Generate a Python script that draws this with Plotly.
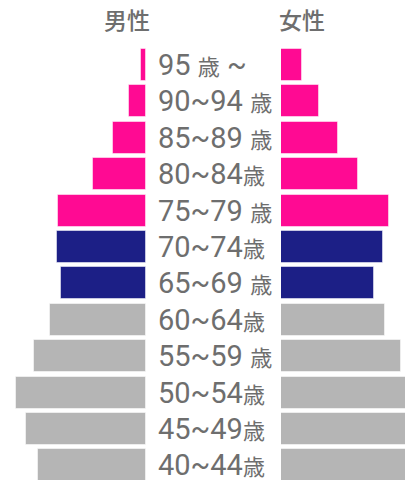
import plotly.graph_objects as go

age_groups = ["95 歳 ~", "90~94 歳", "85~89 歳", "80~84歳", "75~79 歳", "70~74歳",
              "65~69 歳", "60~64歳", "55~59 歳", "50~54歳", "45~49歳", "40~44歳"]
male = [5, 17, 33, 53, 88, 89, 85, 96, 112, 130, 120, 108]
female = [21, 38, 57, 77, 108, 102, 93, 104, 120, 136, 134, 125]
group_kind = ["old", "old", "old", "old", "old", "mid", "mid",
              "base", "base", "base", "base", "base"]
headers = ["男性", "女性"]

palette = {"old": "#ff0a93", "mid": "#1c1f86", "base": "#b5b5b5"}
colors = [palette[k] for k in group_kind]
pos = list(range(len(age_groups)))

# page is offset by 8px body margin; figure sized to fit the window
OFF = 8
W, H = 413 - OFF, 480 - OFF
fig = go.Figure()
fig.add_trace(go.Bar(x=male, y=pos, orientation="h", xaxis="x", yaxis="y",
                     marker=dict(color=colors, line=dict(color="rgba(255,255,255,0.5)", width=1)),
                     width=0.88, hoverinfo="skip"))
fig.add_trace(go.Bar(x=female, y=pos, orientation="h", xaxis="x2", yaxis="y",
                     marker=dict(color=colors, line=dict(color="rgba(255,255,255,0.5)", width=1)),
                     width=0.88, hoverinfo="skip"))

text_color = "#6e6e6e"
font_fam = "Roboto, 'Noto Sans CJK JP', sans-serif"
annotations = []
for p, lab in zip(pos, age_groups):
    t = lab.replace("歳", "<span style='font-size:22px'>歳</span>")
    annotations.append(dict(x=(156 - OFF) / W, xref="paper", y=p, yref="y", text=t,
                            showarrow=False, xanchor="left", yanchor="middle",
                            font=dict(size=29, color=text_color, family=font_fam)))
for hx, h in zip([127, 302], headers):
    annotations.append(dict(x=(hx - OFF) / W, xref="paper", y=1 - (21 - OFF) / H, yref="paper",
                            text=h, showarrow=False, xanchor="center", yanchor="middle",
                            font=dict(size=23, color=text_color, family=font_fam, weight=500)))

row_px = 36.4
top_px = 65 - OFF
fig.update_layout(
    width=W, height=H, margin=dict(l=0, r=0, t=0, b=0),
    paper_bgcolor="white", plot_bgcolor="white", showlegend=False, bargap=0,
    xaxis=dict(domain=[0, (146 - OFF) / W], range=[146 - OFF, 0], visible=False, fixedrange=True),
    xaxis2=dict(domain=[(281 - OFF) / W, 1], range=[0, 132], visible=False, anchor="y", fixedrange=True),
    yaxis=dict(range=[(H - top_px) / row_px, -top_px / row_px], visible=False, fixedrange=True),
    annotations=annotations,
)
fig.write_html("out.html", config={"displayModeBar": False})
